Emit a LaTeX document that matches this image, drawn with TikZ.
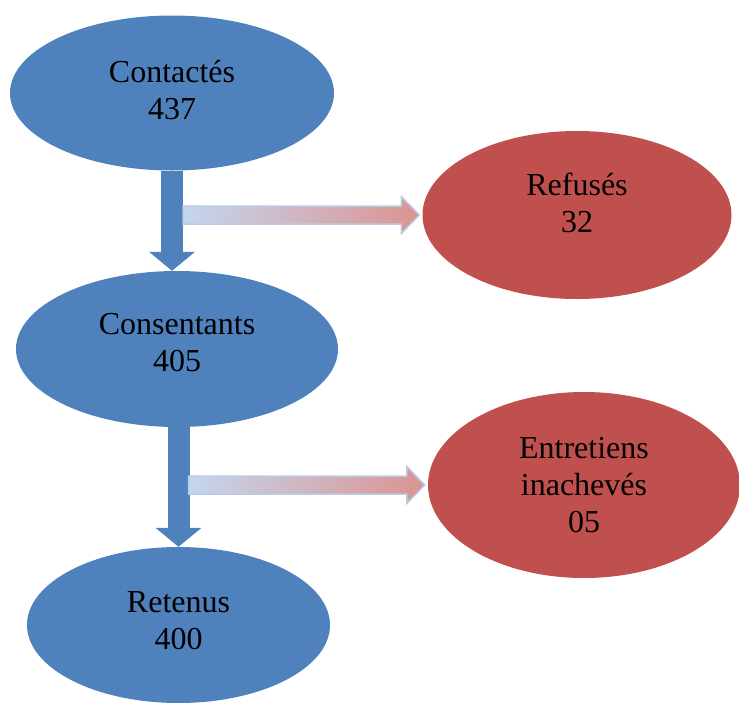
\documentclass[tikz,border=0pt]{standalone}
\usepackage{fontspec}
\setmainfont{Liberation Serif}
\usetikzlibrary{shapes.geometric, arrows.meta, calc}

\definecolor{nodeblue}{HTML}{4F81BD}
\definecolor{nodered}{HTML}{C0504D}
\definecolor{arrowblue}{HTML}{C4D6EE}
\definecolor{arrowred}{HTML}{DC9391}
\definecolor{arrowedge}{HTML}{B9CDE5}

\tikzset{
  bluenode/.style={ellipse, fill=nodeblue, align=center, inner sep=0pt,
    font=\fontsize{32}{37}\selectfont},
  rednode/.style={bluenode, fill=nodered},
  downarrow/.style={draw=nodeblue, line width=22pt,
    -{Triangle[width=45pt, length=19pt]}},
}

\begin{document}
\begin{tikzpicture}[x=1pt, y=-1pt]
\useasboundingbox (0,0) rectangle (739,702);

\node[bluenode, minimum width=324pt, minimum height=155pt, text depth=6pt] (contact) at (172,93) {Contactés\\437};
\node[bluenode, minimum width=322pt, minimum height=156pt, text depth=14pt] (consent) at (177,349) {Consentants\\405};
\node[bluenode, minimum width=303pt, minimum height=156pt, text depth=9pt] (retenu) at (178.5,625) {Retenus\\400};
\node[rednode, minimum width=309pt, minimum height=168pt, text depth=24pt] (refus) at (577,215) {Refusés\\32};
\node[rednode, minimum width=312pt, minimum height=186pt] (inacheve) at (584,485) {Entretiens\\inachevés\\05};

% vertical flow
\draw[downarrow] (contact.south) -- (contact.south |- consent.north);
\draw[downarrow] (retenu.north |- consent.south) -- (retenu.north);

% side arrows, from the shaft to the red nodes
\def \flowarrow #1#2{
  \shade[left color=arrowblue, right color=arrowred, draw=arrowedge, line width=1.5pt]
    let \p1=(#1), \p2=($(#2.west)+(-3,0)$) in
    (\x1,\y2+9pt) -- (\x2-18pt,\y2+9pt) -- (\x2-18pt,\y2+18.5pt) -- (\x2,\y2)
    -- (\x2-18pt,\y2-18.5pt) -- (\x2-18pt,\y2-9pt) -- (\x1,\y2-9pt) -- cycle;
}
\coordinate (tail1) at ($(contact.south)+(11,0)$);
\coordinate (tail2) at ($(retenu.north)+(10,0)$);
\flowarrow{tail1}{refus}
\flowarrow{tail2}{inacheve}
\end{tikzpicture}
\end{document}
